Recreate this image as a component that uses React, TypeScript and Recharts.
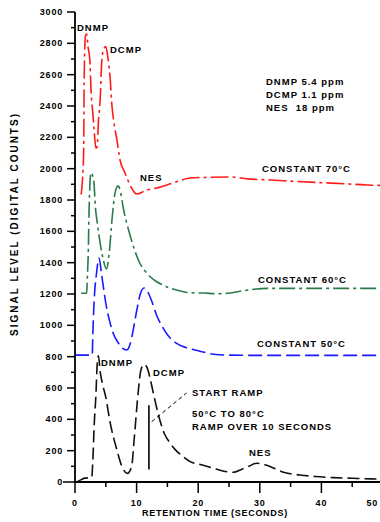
import { LineChart, Line, XAxis, YAxis, ReferenceLine } from 'recharts'

// [retention time (s), signal (digital counts)]
const constant70: [number, number][] = [
  [1.0, 1835], [1.2, 1920], [1.4, 2100], [1.5, 2600], [1.7, 2850], [1.9, 2860],
  [2.1, 2780], [2.4, 2700], [2.6, 2500], [2.9, 2350], [3.1, 2250], [3.4, 2130],
  [3.6, 2140], [3.8, 2300], [4.1, 2450], [4.3, 2650], [4.5, 2740], [5.0, 2780],
  [5.3, 2720], [5.7, 2580], [6.0, 2400], [6.3, 2300], [6.8, 2185], [7.3, 2057],
  [8.1, 1974], [9.2, 1876], [10.0, 1838], [11.6, 1863], [13.2, 1876], [15.9, 1908],
  [18.7, 1940], [22, 1945], [25.2, 1947], [28, 1935], [31.7, 1928], [36, 1918],
  [40.3, 1910], [44, 1903], [47.4, 1896], [50, 1893],
]

const constant60: [number, number][] = [
  [1.0, 1205], [1.9, 1205], [2.0, 1300], [2.15, 1460], [2.3, 1760], [2.6, 1975],
  [2.9, 1950], [3.1, 1900], [3.3, 1760], [3.6, 1660], [4.1, 1520], [4.6, 1417],
  [5.1, 1360], [5.6, 1480], [6.0, 1672], [6.5, 1845], [7.0, 1890], [7.4, 1850],
  [7.8, 1757], [8.7, 1608], [9.5, 1502], [10.5, 1398], [11.3, 1350], [12.2, 1310],
  [13.2, 1280], [14.3, 1257], [15.4, 1238], [16.5, 1225], [18.7, 1208], [21, 1206],
  [23, 1202], [25.2, 1206], [27.3, 1221], [31.2, 1236], [40, 1236], [50, 1236],
]

const constant50: [number, number][] = [
  [0, 810], [2.8, 810], [2.9, 950], [3.1, 1150], [3.5, 1334], [3.9, 1430],
  [4.3, 1330], [5.0, 1142], [5.6, 1030], [6.2, 950], [7.0, 890], [7.7, 855],
  [8.4, 843], [8.9, 875], [9.4, 960], [10.0, 1090], [10.6, 1200], [11.2, 1238],
  [11.8, 1215], [12.5, 1150], [13.3, 1060], [14.2, 990], [15.2, 930], [16.5, 885],
  [18, 858], [19.5, 843], [21, 828], [22.5, 815], [25, 810], [30, 808], [40, 808],
  [50, 808],
]

const ramp50to80: [number, number][] = [
  [0.3, 0], [1.0, 15], [1.6, 25], [2.7, 28], [2.9, 140], [3.1, 350], [3.4, 560],
  [3.6, 750], [3.8, 805], [4.1, 700], [4.5, 620], [5.0, 540], [5.7, 380], [6.8, 205],
  [7.6, 100], [8.5, 55], [9.2, 100], [9.6, 270], [10.3, 590], [10.7, 715], [11.2, 750],
  [11.7, 730], [12.2, 660], [12.7, 570], [13.6, 420], [14.5, 310], [15.4, 250],
  [16.3, 205], [17.3, 170], [18.7, 130], [20.5, 110], [22.3, 90], [24, 70], [25.7, 62],
  [27, 80], [28.2, 100], [29.5, 120], [31, 108], [32.5, 85], [34, 60], [36.5, 45],
  [39, 35], [42, 28], [45, 24], [48, 20], [50, 19],
]

const timeTicks = [0, 5, 10, 15, 20, 25, 30, 35, 40, 45, 50]
const signalTicks = [
  0, 100, 200, 300, 400, 500, 600, 700, 800, 900, 1000, 1100, 1200, 1300, 1400, 1500,
  1600, 1700, 1800, 1900, 2000, 2100, 2200, 2300, 2400, 2500, 2600, 2700, 2800, 2900, 3000,
]

// start-of-ramp marker and its pointer, in (s, counts)
const rampMarker = { time: 12, from: 80, to: 490 }
const rampPointer = [{ x: 12.45, y: 385 }, { x: 18.1, y: 568 }]

const FONT = "'Liberation Sans', Arial, sans-serif"

const toPoints = (pts: [number, number][]) => pts.map(([t, v]) => ({ t, v }))

function LeftTick({ x, y, payload }: any) {
  const v = payload.value
  const major = v % 200 === 0
  const len = v === 0 ? 12 : major ? 8 : 4
  return (
    <g>
      <line x1={x - len} x2={x} y1={y} y2={y} stroke='#000' strokeWidth={1.5} />
      {major && (
        <text x={x - 12} y={y + 3} textAnchor='end' fontSize={9} fontWeight='bold' fontFamily={FONT} letterSpacing={0.8} fill='#000'>
          {v}
        </text>
      )}
    </g>
  )
}

function RightTick({ x, y, payload }: any) {
  const major = payload.value % 200 === 0
  return <line x1={x - (major ? 11 : 7)} x2={x} y1={y} y2={y} stroke='#000' strokeWidth={1.5} />
}

function BottomTick({ x, y, payload }: any) {
  const v = payload.value
  const major = v % 10 === 0
  // the last label sits at the right edge of the page, so it is right-aligned
  const last = v === timeTicks[timeTicks.length - 1]
  return (
    <g>
      <line x1={x} x2={x} y1={y} y2={y + (major ? 11 : 5)} stroke='#000' strokeWidth={1.5} />
      {major && (
        <text
          x={last ? x - 5 : x}
          y={y + 24}
          textAnchor={last ? 'end' : 'middle'}
          fontSize={9}
          fontWeight='bold'
          fontFamily={FONT}
          letterSpacing={0.8}
          fill='#000'
        >
          {v}
        </text>
      )}
    </g>
  )
}

function TopTick({ x, y, payload }: any) {
  const major = payload.value % 10 === 0
  return <line x1={x} x2={x} y1={y} y2={y + (major ? 10 : 6)} stroke='#000' strokeWidth={1.5} />
}

const notes: { text: string; x: number; y: number }[] = [
  { text: 'DNMP', x: 77, y: 31 },
  { text: 'DCMP', x: 110, y: 53 },
  { text: 'NES', x: 140, y: 181 },
  { text: 'DNMP 5.4 ppm', x: 266, y: 85 },
  { text: 'DCMP 1.1 ppm', x: 266, y: 98 },
  { text: 'NES  18 ppm', x: 266, y: 111 },
  { text: 'CONSTANT 70°C', x: 262, y: 172 },
  { text: 'CONSTANT 60°C', x: 258, y: 283 },
  { text: 'CONSTANT 50°C', x: 257, y: 347 },
  { text: 'DNMP', x: 101, y: 366 },
  { text: 'DCMP', x: 153, y: 376 },
  { text: 'START RAMP', x: 192, y: 396 },
  { text: '50°C TO 80°C', x: 192, y: 417 },
  { text: 'RAMP OVER 10 SECONDS', x: 192, y: 430 },
  { text: 'NES', x: 249, y: 456 },
]

export default function App() {
  return (
    <div style={{ position: 'absolute', left: 0, top: 0, width: 380, height: 522, overflow: 'hidden', background: '#fff' }}>
      <LineChart width={400} height={522} margin={{ top: 12, right: 17, bottom: 0, left: 0 }}>
        <XAxis
          type='number'
          dataKey='t'
          domain={[0, 50]}
          ticks={timeTicks}
          interval={0}
          height={40}
          tickSize={0}
          tickMargin={0}
          tickLine={false}
          axisLine={{ stroke: '#000', strokeWidth: 1.8 }}
          tick={<BottomTick />}
          allowDataOverflow
        />
        <XAxis
          xAxisId='top'
          orientation='top'
          type='number'
          dataKey='t'
          domain={[0, 50]}
          ticks={timeTicks}
          interval={0}
          height={0}
          tickSize={0}
          tickMargin={0}
          tickLine={false}
          axisLine={false}
          tick={<TopTick />}
        />
        <YAxis
          type='number'
          domain={[0, 3000]}
          ticks={signalTicks}
          interval={0}
          width={75}
          tickSize={0}
          tickMargin={0}
          tickLine={false}
          axisLine={{ stroke: '#000', strokeWidth: 1.8 }}
          tick={<LeftTick />}
          allowDataOverflow
        />
        <YAxis
          yAxisId='right'
          orientation='right'
          type='number'
          domain={[0, 3000]}
          ticks={signalTicks}
          interval={0}
          width={0}
          tickSize={0}
          tickMargin={0}
          tickLine={false}
          axisLine={false}
          tick={<RightTick />}
        />
        <Line data={toPoints(constant70)} dataKey='v' type='monotone' stroke='#ff1a1a' strokeWidth={1.6} strokeDasharray='18 4 3 4' dot={false} isAnimationActive={false} />
        <Line data={toPoints(constant60)} dataKey='v' type='monotone' stroke='#2b7a4b' strokeWidth={1.6} strokeDasharray='16 4 3 4' dot={false} isAnimationActive={false} />
        <Line data={toPoints(constant50)} dataKey='v' type='monotone' stroke='#1a1aff' strokeWidth={1.6} strokeDasharray='14 5' dot={false} isAnimationActive={false} />
        <Line data={toPoints(ramp50to80)} dataKey='v' type='monotone' stroke='#111' strokeWidth={1.6} strokeDasharray='12 5' dot={false} isAnimationActive={false} />
        <ReferenceLine
          segment={[{ x: rampMarker.time, y: rampMarker.from }, { x: rampMarker.time, y: rampMarker.to }]}
          stroke='#000'
          strokeWidth={1.6}
        />
        <ReferenceLine segment={rampPointer} stroke='#000' strokeWidth={1} strokeDasharray='4 3' />
      </LineChart>
      <svg width={380} height={522} style={{ position: 'absolute', left: 0, top: 0, pointerEvents: 'none' }}>
        <g fontFamily={FONT} fontWeight='bold' fontSize={9.5} letterSpacing={1} fill='#000'>
          {notes.map((n) => (
            <text key={`${n.text}-${n.y}`} x={n.x} y={n.y} xmlSpace='preserve'>
              {n.text}
            </text>
          ))}
        </g>
        <text x={215} y={516} textAnchor='middle' fontFamily={FONT} fontWeight='bold' fontSize={9} letterSpacing={0.7} fill='#000'>
          RETENTION TIME (SECONDS)
        </text>
        <text
          x={18}
          y={224}
          transform='rotate(-90 18 224)'
          textAnchor='middle'
          fontFamily={FONT}
          fontWeight='bold'
          fontSize={10}
          letterSpacing={2}
          fill='#000'
        >
          SIGNAL LEVEL (DIGITAL COUNTS)
        </text>
      </svg>
    </div>
  )
}
